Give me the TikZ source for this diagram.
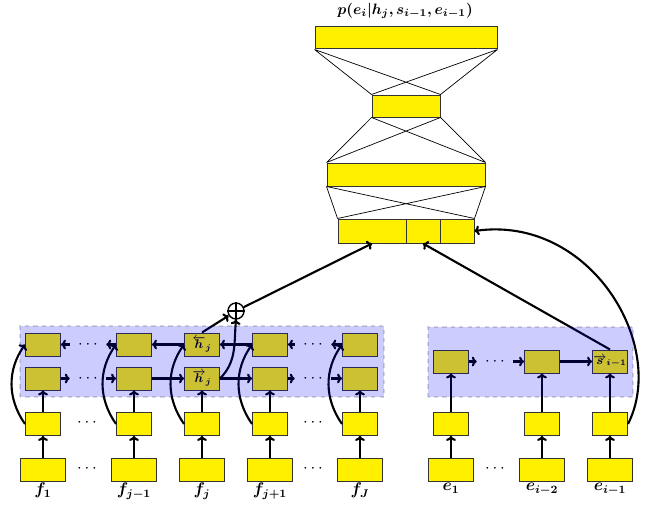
\documentclass[tikz,border=0pt]{standalone}
\usepackage{bm}
\usetikzlibrary{arrows.meta}
\definecolor{boxyellow}{RGB}{255,240,0}
\tikzset{layer/.style={draw=black!80, fill=boxyellow, line width=0.7pt, inner sep=0pt},
  cell/.style={layer, minimum width=8.75mm, minimum height=5.75mm},
  word/.style={layer, minimum width=11.25mm, minimum height=5.75mm},
  link/.style={-{To[length=3.5pt, width=7pt]}, line width=1.5pt},
  fan/.style={line width=0.5pt},
  gap/.style={inner sep=0pt, minimum width=9mm, minimum height=4mm, font=\large},
  tag/.style={anchor=north, inner sep=1pt, font=\large},
  veil/.style={draw=black, draw opacity=0.15, dashed, line width=1pt, fill=blue, fill opacity=0.2}}

\begin{document}
\begin{tikzpicture}[x=0.25mm, y=0.25mm]
   \useasboundingbox (0,0) rectangle (654,508);
   % output layers
   \node[layer, minimum width=45.5mm, minimum height=5.5mm] (out) at (406,470) {};
   \node[layer, minimum width=17mm, minimum height=5.5mm] (mid) at (406,402) {};
   \node[layer, minimum width=39.5mm, minimum height=5.75mm] (hid) at (406,333.5) {};
   \node[layer, minimum width=17mm, minimum height=6mm] (cat1) at (372,277) {};
   \node[layer, minimum width=8.5mm, minimum height=6mm] (cat2) at (423,277) {};
   \node[layer, minimum width=8.5mm, minimum height=6mm] (cat3) at (457,277) {};
   \node[scale=1.07] (prob) at (405,497) {$\bm{p(e_i|h_j,s_{i-1},e_{i-1})}$};
   \draw[fan] (out.south west) -- (mid.north west) (out.south west) -- (mid.north east)
              (out.south east) -- (mid.north west) (out.south east) -- (mid.north east);
   \draw[fan] (mid.south west) -- (hid.north west) (mid.south west) -- (hid.north east)
              (mid.south east) -- (hid.north west) (mid.south east) -- (hid.north east);
   \draw[fan] (hid.south west) -- (cat1.north west) (hid.south west) -- (cat3.north east)
              (hid.south east) -- (cat1.north west) (hid.south east) -- (cat3.north east);
   % source side
   \foreach \n/\x/\fwtext/\bwtext/\wtext in {1/43/{}/{}/{$\bm{f_1}$},
       2/134/{}/{}/{$\bm{f_{j-1}}$},
       3/202/{$\overrightarrow{\bm h}_{\bm j}$}/{$\overleftarrow{\bm h}_{\bm j}$}/{$\bm{f_j}$},
       4/270/{}/{}/{$\bm{f_{j+1}}$}, 5/360/{}/{}/{$\bm{f_J}$}}{
     \node[word] (f\n) at (\x,38.5) {};
     \node[cell] (x\n) at (\x,84) {};
     \node[cell, font=\small] (fw\n) at (\x,129.5) {\fwtext};
     \node[cell, font=\small] (bw\n) at (\x,163.5) {\bwtext};
     \node[tag] (lf\n) at (f\n.south) {\wtext};
     \draw[link] (f\n) -- (x\n);
     \draw[link] (x\n) -- (fw\n);
     \draw[link] (x\n.west) to[bend left=35] (bw\n.west);
   }
   \node[gap] (bd1) at (88,163.5) {$\cdots$};
   \node[gap] (fd1) at (88,129.5) {$\cdots$};
   \node[gap] (xd1) at (87,85) {$\cdots$};
   \node[gap] (wd1) at (87,39) {$\cdots$};
   \node[gap] (bd2) at (313,163.5) {$\cdots$};
   \node[gap] (fd2) at (313,129.5) {$\cdots$};
   \node[gap] (xd2) at (313,85) {$\cdots$};
   \node[gap] (wd2) at (313,39) {$\cdots$};
   \draw[link] (bd1) -- (bw1);
   \draw[link] (bw2) -- (bd1);
   \draw[link] (bw3) -- (bw2);
   \draw[link] (bw4) -- (bw3);
   \draw[link] (bd2) -- (bw4);
   \draw[link] (bw5) -- (bd2);
   \draw[link] (fw1) -- (fd1);
   \draw[link] (fd1) -- (fw2);
   \draw[link] (fw2) -- (fw3);
   \draw[link] (fw3) -- (fw4);
   \draw[link] (fw4) -- (fd2);
   \draw[link] (fd2) -- (fw5);
   \node[circle, draw, line width=1pt, minimum size=4mm, inner sep=0pt] (sum) at (236,197) {};
   \draw[line width=0.8pt] (sum.north) -- (sum.south) (sum.west) -- (sum.east);
   \draw[link] (bw3.north) -- (sum);
   \draw[link] (fw3.east) to[out=45, in=-95] (sum.south);
   \draw[link] (sum) -- (cat1.south);
   % target side
   \foreach \n/\x/\stext/\wtext in {1/451/{}/{$\bm{e_1}$}, 2/542/{}/{$\bm{e_{i-2}}$},
       3/610/{$\overrightarrow{\bm s}_{\bm{i-1}}$}/{$\bm{e_{i-1}}$}}{
     \node[word] (e\n) at (\x,38.5) {};
     \node[cell] (y\n) at (\x,84) {};
     \node[cell, font=\small] (s\n) at (\x,146.5) {\stext};
     \node[tag] (le\n) at (e\n.south) {\wtext};
     \draw[link] (e\n) -- (y\n);
     \draw[link] (y\n) -- (s\n);
   }
   \node[gap] (sd) at (495,146.5) {$\cdots$};
   \node[gap] (ed) at (495,39) {$\cdots$};
   \draw[link] (s1) -- (sd);
   \draw[link] (sd) -- (s2);
   \draw[link] (s2) -- (s3);
   \draw[link] (s3.north) -- (cat2.south);
   \draw[link] (y3.east) .. controls (668,163) and (590,293) .. (cat3.east);
   % recurrent layers
   \draw[veil] (20,111) rectangle (384,182);
   \draw[veil] (428,111) rectangle (633,181);
\end{tikzpicture}
\end{document}
